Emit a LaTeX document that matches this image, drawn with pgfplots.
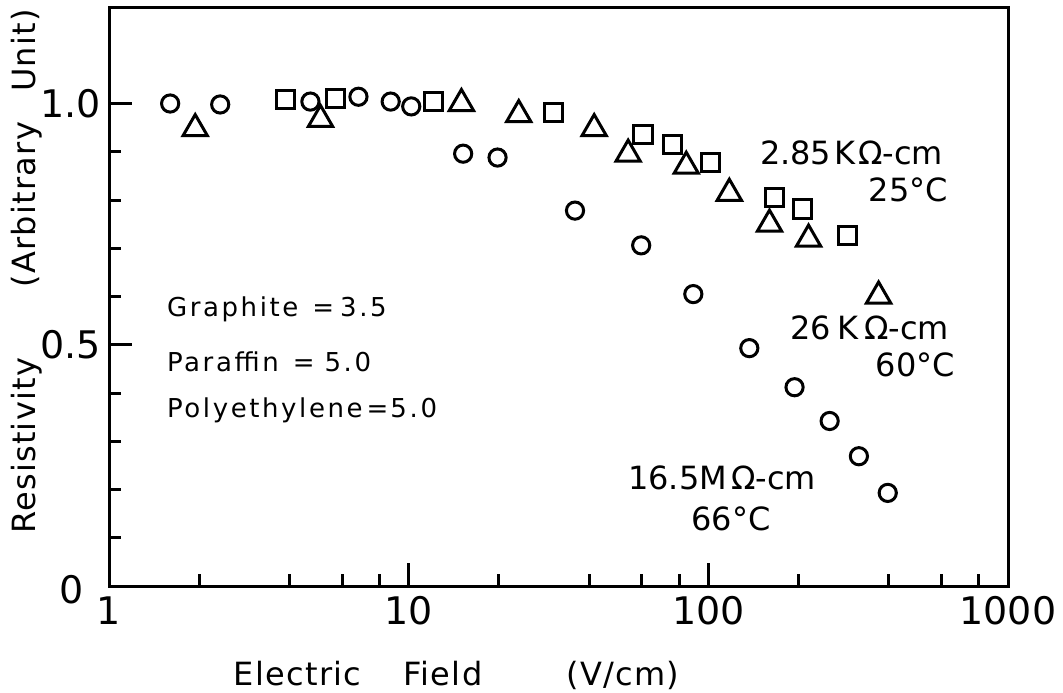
\documentclass[border=0pt]{standalone}
\usepackage{fontspec}
\setmainfont{DejaVu Sans}
\newfontfamily\lsfont{DejaVu Sans}[LetterSpace=10]
\newfontfamily\lsfontb{DejaVu Sans}[LetterSpace=4]
\usepackage{graphicx}
\usepackage{pgfplots}
\pgfplotsset{compat=1.18}

\begin{document}
\begin{tikzpicture}
\begin{axis}[
  name=ax,
  scale only axis,
  width=449.5pt, height=289.5pt,
  xmode=log, log basis x=10,
  xmin=1, xmax=1000, ymin=0, ymax=1.2,
  axis line style={line width=1.5pt},
  every tick/.style={line width=1.5pt, black},
  tick align=inside,
  tick pos=left,
  xtick={1,10,100,1000}, xticklabels={1,10,100,1000},
  minor xtick={2,4,6,8,20,40,60,80,200,400,600,800},
  ytick={0,0.5,1}, yticklabels={,0.5,1.0},
  minor ytick={0.1,0.2,0.3,0.4,0.6,0.7,0.8,0.9},
  major tick length=11.5pt, minor tick length=6pt,
  ticklabel style={font=\fontsize{19}{19}\selectfont},
  yticklabel style={inner sep=4pt},
  xticklabel style={inner sep=5pt},
  clip=false,
]
% 16.5 MOhm-cm, 66 C
\addplot[only marks, mark=o, mark size=4.3pt, line width=1.5pt, black] coordinates {
(1.60,1.000) (2.35,0.998) (4.70,1.004) (6.80,1.014) (8.71,1.004) (10.2,0.994)
(15.2,0.896) (19.8,0.888) (35.9,0.778) (59.7,0.706) (89.1,0.605) (137,0.493)
(194,0.412) (254,0.342) (318,0.269) (397,0.193)
};
% 2.85 KOhm-cm, 25 C
\addplot[only marks, mark=square, mark size=4.6pt, line width=1.5pt, black] coordinates {
(3.88,1.008) (5.70,1.010) (12.1,1.004) (30.5,0.981) (60.6,0.936) (75.8,0.915)
(101.6,0.878) (166,0.805) (206,0.781) (292,0.727)
};
% 26 KOhm-cm, 60 C
\addplot[only marks, mark=triangle, mark size=7pt, line width=1.5pt, black] coordinates {
(1.94,0.948) (5.08,0.967) (15.0,1.000) (23.3,0.977) (41.6,0.948) (54.0,0.895)
(84.4,0.870) (117.5,0.814) (160,0.750) (216,0.719) (370,0.601)
};

\node[anchor=center, font=\fontsize{19}{19}\selectfont] at (rel axis cs:-0.0412,-0.007) {0};

\node[anchor=base west, font=\fontsize{16}{16}\selectfont] at (axis cs:141,0.873) {2.85\kern1.5ptK\kern1.5ptΩ-cm};
\node[anchor=base west, font=\fontsize{16}{16}\selectfont] at (axis cs:325,0.797) {25°C};
\node[anchor=base west, font=\fontsize{16}{16}\selectfont] at (axis cs:178,0.510) {26\kern3ptK\kern3ptΩ-cm};
\node[anchor=base west, font=\fontsize{16}{16}\selectfont] at (axis cs:343,0.434) {60°C};
\node[anchor=base west, font=\fontsize{16}{16}\selectfont] at (axis cs:51.2,0.199) {16.5M\kern2ptΩ-cm};
\node[anchor=base west, font=\fontsize{16}{16}\selectfont] at (axis cs:83.2,0.116) {66°C};

\node[anchor=base west, font={\fontsize{13}{13}\selectfont\lsfont}] at (axis cs:1.48,0.558) {Graphite\hspace{7pt}=\hspace{3pt}3.5};
\node[anchor=base west, font={\fontsize{13}{13}\selectfont\lsfont}] at (axis cs:1.48,0.444) {Paraffin\hspace{7pt}=\hspace{5pt}5.0};
\node[anchor=base west, font={\fontsize{13}{13}\selectfont\lsfont}] at (axis cs:1.48,0.349) {Polyethylene\hspace{2pt}=\hspace{1pt}5.0};

\node[rotate=90, anchor=center, font={\fontsize{16}{16}\selectfont\lsfontb}] at (rel axis cs:-0.0912,0.543) {Resistivity\hspace{35pt}(Arbitrary\hspace{15pt}Unit)};
\node[anchor=base west, font={\fontsize{16}{16}\selectfont\lsfontb}] at (rel axis cs:0.131,-0.171) {Electric\hspace{21pt}Field\hspace{42pt}(V/cm)};
\end{axis}
\pgfresetboundingbox
\path ([xshift=-54.5pt,yshift=-53pt]ax.south west) rectangle ([xshift=27.5pt,yshift=3.5pt]ax.north east);
\end{tikzpicture}
\end{document}
